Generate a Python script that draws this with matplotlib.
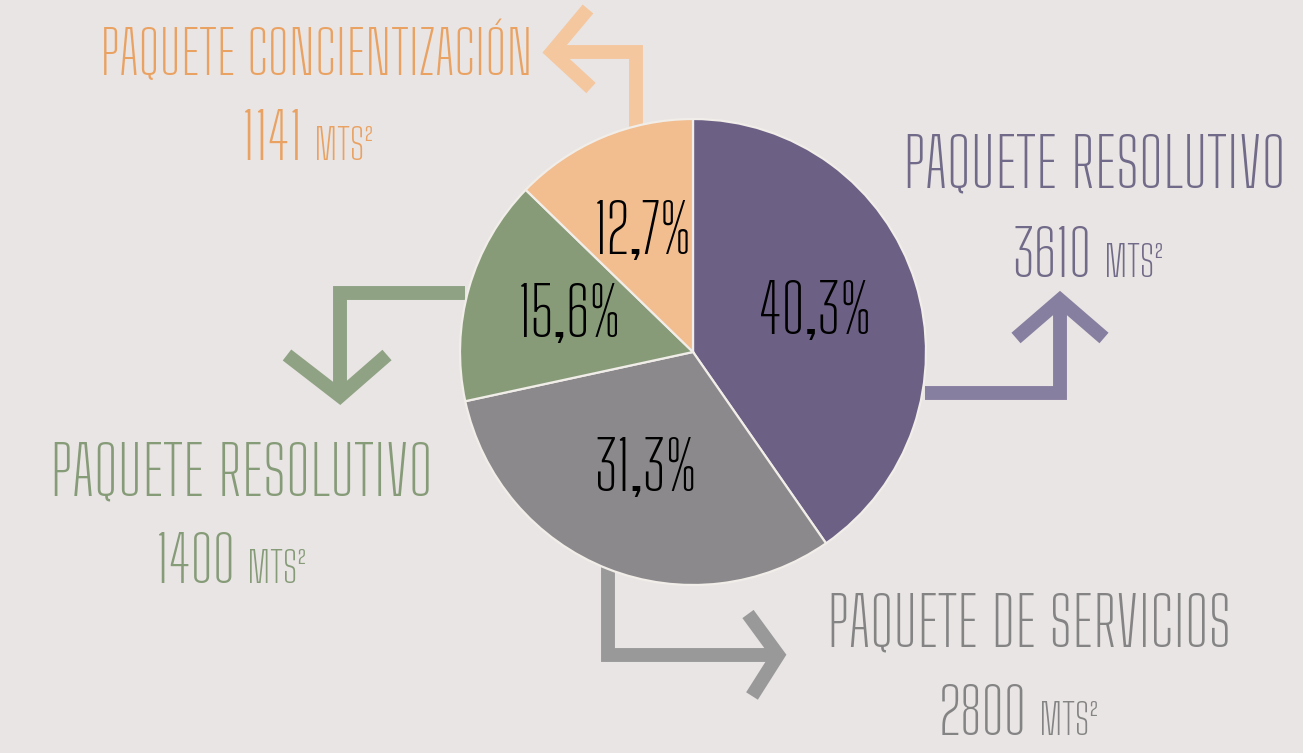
import matplotlib
matplotlib.use("Agg")
import matplotlib.pyplot as plt

# areas per package (m2), clockwise from 12 o'clock
paquetes = ["PAQUETE RESOLUTIVO", "PAQUETE DE SERVICIOS", "PAQUETE RESOLUTIVO", "PAQUETE CONCIENTIZACIÓN"]
areas = [3610, 2800, 1400, 1141]
slice_colors = ["#6d6085", "#8b898b", "#879b79", "#f2bd8f"]
arrow_colors = ["#877f9f", "#9a999a", "#8fa283", "#f4c79f"]
text_colors = ["#716a88", "#858485", "#869b78", "#e9a262"]

FONT = ["Big Shoulders Text", "DejaVu Sans"]
W, H = 1303, 753

fig = plt.figure(figsize=(W / 100, H / 100), dpi=100)
fig.patch.set_facecolor("#e9e5e4")
ax = fig.add_axes([0, 0, 1, 1])
ax.set_facecolor("#e9e5e4")
ax.axis("off")


def pct_fmt(p):
    return ("%.1f%%" % p).replace(".", ",")


# y axis is flipped below, so counterclock=True + startangle=-90 reads clockwise from the top
wedges, _, pcts = ax.pie(areas, colors=slice_colors, startangle=-90, counterclock=True,
                         center=(693, 352), radius=233, autopct=pct_fmt, pctdistance=0.55,
                         wedgeprops=dict(edgecolor="#f1ede9", linewidth=1.6),
                         textprops=dict(family=FONT, fontsize=48, color="black"))
ax.set_xlim(0, W)
ax.set_ylim(H, 0)   # pixel-like coords, y downwards
ax.set_aspect("equal")

# elbow arrows (shaft path, arrow head arms)
arrows = [
    ([(925, 393), (1060, 393), (1060, 300)], [(1016, 338), (1060, 300), (1104, 338)]),
    ([(608, 560), (608, 655), (778, 655)], [(748, 614), (778, 655), (752, 696)]),
    ([(465, 293), (340, 293), (340, 396)], [(287, 355), (340, 396), (387, 355)]),
    ([(636, 128), (636, 52), (552, 52)], [(588, 9), (552, 52), (591, 88)]),
]
for (shaft, head), c in zip(arrows, arrow_colors):
    ax.plot([p[0] for p in shaft], [p[1] for p in shaft], color=c, lw=10,
            solid_joinstyle="miter", solid_capstyle="butt", zorder=0)
    ax.plot([p[0] for p in head], [p[1] for p in head], color=c, lw=10,
            solid_joinstyle="miter", solid_capstyle="butt", zorder=0)

# package titles (center x, baseline y) and areas (split x, baseline y)
title_pos = [(1094, 187), (1029, 647), (241, 495), (316, 75)]
title_size = [49, 48, 49, 43]
area_pos = [(1092, 277), (1027, 735), (235, 583), (302, 160)]
for name, a, c, (tx, ty), fs, (sx, sy) in zip(paquetes, areas, text_colors, title_pos, title_size, area_pos):
    ax.text(tx, ty, name, family=FONT, fontsize=fs, color=c, ha="center", va="baseline")
    ax.text(sx, sy, str(a), family=FONT, fontsize=46, color=c, ha="right", va="baseline")
    ax.text(sx + 12, sy, "MTS²", family=FONT, fontsize=31, color=c, ha="left", va="baseline")

fig.savefig("out.png", dpi=100, facecolor=fig.get_facecolor())
